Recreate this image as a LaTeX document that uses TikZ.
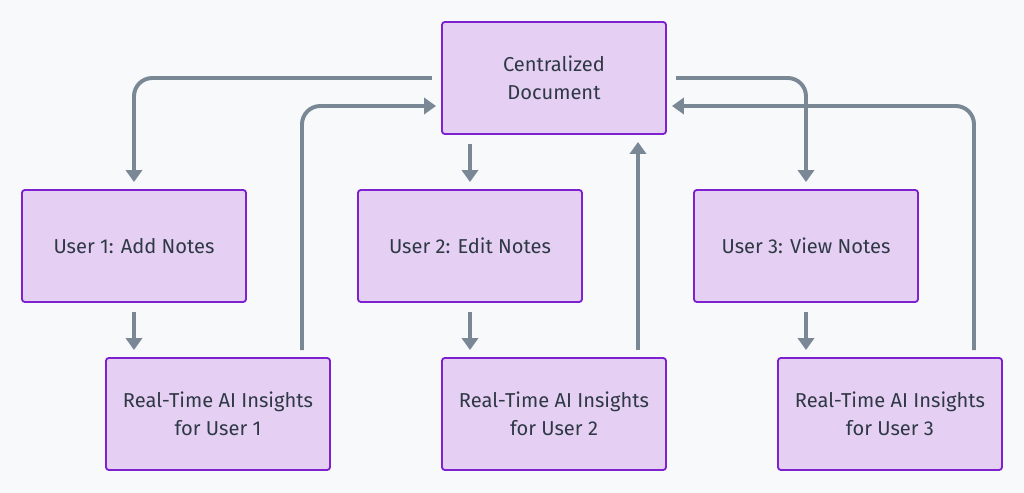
\documentclass[tikz,border=0pt]{standalone}
\usepackage{fontspec}
\setmainfont{Fira Sans}
\usepackage{tikz}
\usetikzlibrary{arrows.meta, positioning, calc}
\usepackage{xcolor}
\definecolor{boxFill}{HTML}{E5D0F4}
\definecolor{boxLine}{HTML}{7E22CE}
\definecolor{flowGray}{HTML}{7A8795}
\definecolor{bgGray}{HTML}{F8F9FB}
\definecolor{txtGray}{HTML}{2F3845}
\tikzstyle{tnode} = [%
  rectangle,
  rounded corners=2pt,
  draw=boxLine,
  line width=1.3pt,
  outer sep=0pt,
  fill=boxFill,
  minimum width=5.6cm,
  minimum height=2.8cm,
  align=center,
  text=txtGray,
  inner sep=2pt,
  font=\fontsize{14.3}{20}\selectfont
]

\begin{document}
\begin{tikzpicture}[%
  flow/.style={%
    -{Triangle[length=8.5pt,width=11.5pt]},
    draw=flowGray,
    line width=2.8pt,
    rounded corners=13pt
  }
]

  % Background
  \fill[bgGray] (-13.85cm,1.95cm) rectangle (11.75cm,-10.375cm);
  \useasboundingbox (-13.85cm,1.95cm) rectangle (11.75cm,-10.375cm);

  % Nodes
  \node[tnode] (doc) {Centralized\\Document};
  \node[tnode,below=1.4cm of doc,xshift=-2.1cm] (user2) {User 2: Edit Notes};
  \node[tnode,left=2.8cm of user2] (user1) {User 1: Add Notes};
  \node[tnode,right=2.8cm of user2] (user3) {User 3: View Notes};
  \node[tnode,below=1.4cm of user1,xshift=2.1cm] (ai1) {Real-Time AI Insights\\for User 1};
  \node[tnode,below=1.4cm of user2,xshift=2.1cm] (ai2) {Real-Time AI Insights\\for User 2};
  \node[tnode,below=1.4cm of user3,xshift=2.1cm] (ai3) {Real-Time AI Insights\\for User 3};

  % Document to users
  \draw[flow] ([xshift=-0.25cm]doc.west) -| ([yshift=0.2cm]user1.north);
  \draw[flow] ([xshift=-2.1cm,yshift=-0.25cm]doc.south) -- ([yshift=0.2cm]user2.north);
  \draw[flow] ([xshift=0.25cm]doc.east) -| ([yshift=0.2cm]user3.north);

  % Users to insights
  \draw[flow] ([yshift=-0.25cm]user1.south) -- ([xshift=-2.1cm,yshift=0.2cm]ai1.north);
  \draw[flow] ([yshift=-0.25cm]user2.south) -- ([xshift=-2.1cm,yshift=0.2cm]ai2.north);
  \draw[flow] ([yshift=-0.25cm]user3.south) -- ([xshift=-2.1cm,yshift=0.2cm]ai3.north);

  % Insights back to document
  \draw[flow] ([xshift=2.1cm,yshift=0.2cm]ai1.north) |- ([xshift=-0.15cm,yshift=-0.7cm]doc.west);
  \draw[flow] ([xshift=2.1cm,yshift=0.2cm]ai2.north) -- ([xshift=2.1cm,yshift=-0.2cm]doc.south);
  \draw[flow] ([xshift=2.1cm,yshift=0.2cm]ai3.north) |- ([xshift=0.15cm,yshift=-0.7cm]doc.east);

\end{tikzpicture}
\end{document}
